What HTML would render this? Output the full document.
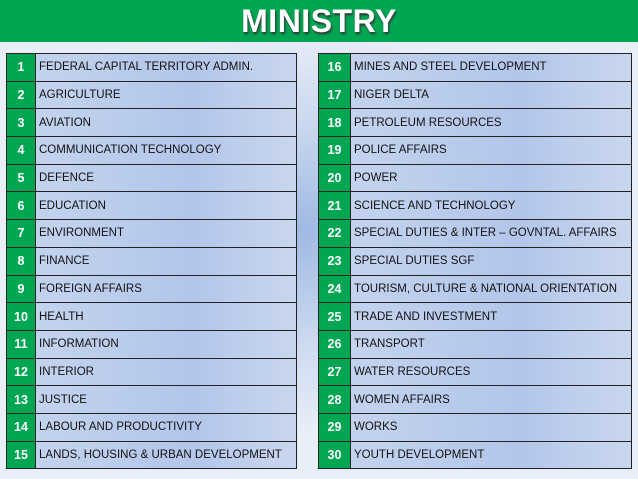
<!DOCTYPE html>
<html><head><meta charset="utf-8"><style>
body{margin:0;width:638px;height:479px;overflow:hidden;font-family:"Liberation Sans",sans-serif;
background:radial-gradient(ellipse 260px 200px at 300px 230px,#9fb9e3 0%,#c8d6ee 50%,#e8eef8 100%);}
#hdr{position:absolute;left:0;top:0;width:638px;height:42px;background:#00a651;color:#fff;font-weight:bold;font-size:32px;text-align:center;line-height:42px;text-shadow:1px 2px 2px #333;letter-spacing:0.5px}
table{position:absolute;top:53px;border-collapse:collapse;}
td{height:26.7px;border:1px solid #222;padding:0;font-size:11.5px;color:#111}
td.n{background:#00a651;color:#fff;font-weight:bold;text-align:center;font-size:12.5px}
td.t{padding-left:3px;background:linear-gradient(90deg,#c3d3ee,#b3c6ea 60%,#c9d6ef);}
</style></head><body>
<div id="hdr">MINISTRY</div>
<table id="L" style="left:6px;width:291px"></table>
<table id="R" style="left:318px;width:314px"></table>
<script>
const left=["FEDERAL CAPITAL TERRITORY ADMIN.","AGRICULTURE","AVIATION","COMMUNICATION TECHNOLOGY","DEFENCE","EDUCATION","ENVIRONMENT","FINANCE","FOREIGN AFFAIRS","HEALTH","INFORMATION","INTERIOR","JUSTICE","LABOUR AND PRODUCTIVITY","LANDS, HOUSING & URBAN DEVELOPMENT"];
const right=["MINES AND STEEL DEVELOPMENT","NIGER DELTA","PETROLEUM RESOURCES","POLICE AFFAIRS","POWER","SCIENCE AND TECHNOLOGY","SPECIAL DUTIES & INTER – GOVNTAL. AFFAIRS","SPECIAL DUTIES SGF","TOURISM, CULTURE & NATIONAL ORIENTATION","TRADE AND INVESTMENT","TRANSPORT","WATER RESOURCES","WOMEN AFFAIRS","WORKS","YOUTH DEVELOPMENT"];
function fill(id,arr,start,nw){
 const t=document.getElementById(id);
 arr.forEach((s,i)=>{
  const tr=document.createElement('tr');
  
  
  const a=document.createElement('td');a.className='n';a.style.width=nw+'px';a.textContent=start+i;
  
  
  const b=document.createElement('td');b.className='t';b.textContent=s;
  
  
  tr.appendChild(a);tr.appendChild(b);t.appendChild(tr);
 });
}
fill('L',left,1,28);fill('R',right,16,31);
</script>
</body></html>
